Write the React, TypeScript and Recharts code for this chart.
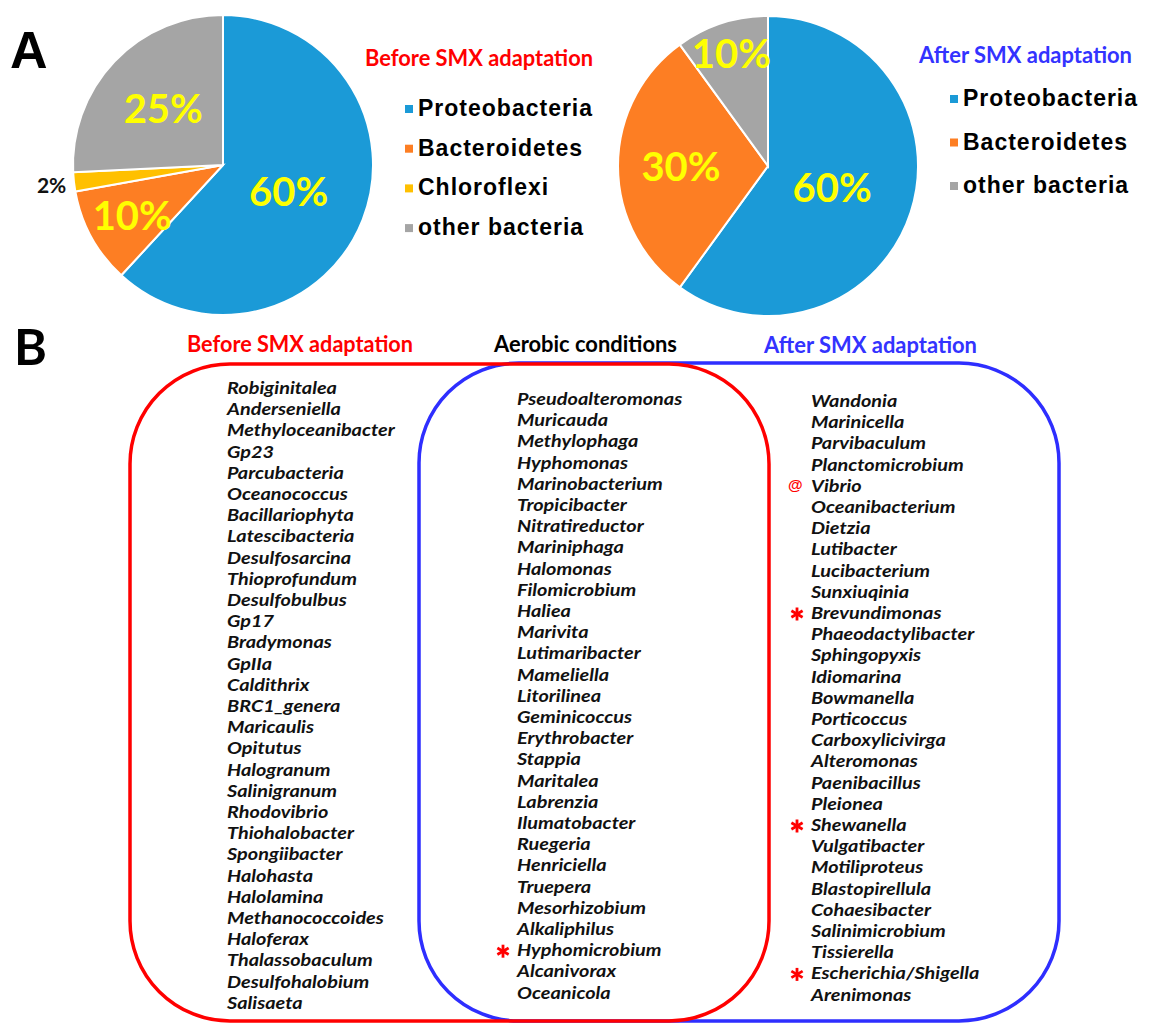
import React from 'react';
import { PieChart, Pie, Cell } from 'recharts';

// phylum composition of the community, percent of reads
const beforePhyla = ['Proteobacteria', 'Bacteroidetes', 'Chloroflexi', 'other bacteria'];
const beforeShares = [60, 10, 2, 25];
const afterPhyla = ['Proteobacteria', 'Bacteroidetes', 'other bacteria'];
const afterShares = [60, 30, 10];

// genera found only before, in both, and only after adaptation
const beforeGenera = [
  'Robiginitalea', 'Anderseniella', 'Methyloceanibacter', 'Gp23', 'Parcubacteria', 'Oceanococcus',
  'Bacillariophyta', 'Latescibacteria', 'Desulfosarcina', 'Thioprofundum', 'Desulfobulbus', 'Gp17',
  'Bradymonas', 'GpIIa', 'Caldithrix', 'BRC1_genera', 'Maricaulis', 'Opitutus', 'Halogranum',
  'Salinigranum', 'Rhodovibrio', 'Thiohalobacter', 'Spongiibacter', 'Halohasta', 'Halolamina',
  'Methanococcoides', 'Haloferax', 'Thalassobaculum', 'Desulfohalobium', 'Salisaeta',
];
const sharedGenera = [
  'Pseudoalteromonas', 'Muricauda', 'Methylophaga', 'Hyphomonas', 'Marinobacterium', 'Tropicibacter',
  'Nitratireductor', 'Mariniphaga', 'Halomonas', 'Filomicrobium', 'Haliea', 'Marivita',
  'Lutimaribacter', 'Mameliella', 'Litorilinea', 'Geminicoccus', 'Erythrobacter', 'Stappia',
  'Maritalea', 'Labrenzia', 'Ilumatobacter', 'Ruegeria', 'Henriciella', 'Truepera', 'Mesorhizobium',
  'Alkaliphilus', 'Hyphomicrobium', 'Alcanivorax', 'Oceanicola',
];
const afterGenera = [
  'Wandonia', 'Marinicella', 'Parvibaculum', 'Planctomicrobium', 'Vibrio', 'Oceanibacterium',
  'Dietzia', 'Lutibacter', 'Lucibacterium', 'Sunxiuqinia', 'Brevundimonas', 'Phaeodactylibacter',
  'Sphingopyxis', 'Idiomarina', 'Bowmanella', 'Porticoccus', 'Carboxylicivirga', 'Alteromonas',
  'Paenibacillus', 'Pleionea', 'Shewanella', 'Vulgatibacter', 'Motiliproteus', 'Blastopirellula',
  'Cohaesibacter', 'Salinimicrobium', 'Tissierella', 'Escherichia/Shigella', 'Arenimonas',
];
const starredGenera = ['Hyphomicrobium', 'Brevundimonas', 'Shewanella', 'Escherichia/Shigella'];
const atGenera = ['Vibrio'];

const phylumColors: Record<string, string> = {
  Proteobacteria: '#1b9ad7',
  Bacteroidetes: '#fd7e23',
  Chloroflexi: '#ffc000',
  'other bacteria': '#a5a5a5',
};

// how far out each percentage sits, as a fraction of the radius
const beforeLabelRadius = [0.47, 0.69, 1.15, 0.55];
const afterLabelRadius = [0.45, 0.58, 0.79];

const RAD = Math.PI / 180;
const RED = '#ff0000';
const BLUE = '#3333ff';
const LINE_GAP = 21.2;

const makeLabel = (radii: number[]) => (props: any) => {
  const { cx, cy, midAngle, outerRadius, index, value } = props;
  const k = radii[index];
  const r = outerRadius * k;
  const x = cx + r * Math.cos(-midAngle * RAD);
  const y = cy + r * Math.sin(-midAngle * RAD);
  const outside = k > 1;
  return (
    <text
      x={x}
      y={y}
      textAnchor="middle"
      dominantBaseline="central"
      fill={outside ? '#111' : '#ffff00'}
      fontFamily="Lato"
      fontWeight={700}
      fontSize={outside ? 21 : 40}
    >
      {value}%
    </text>
  );
};

function PhylumPie({ names, shares, radii, left, cx, cy }: {
  names: string[];
  shares: number[];
  radii: number[];
  left: number;
  cx: number;
  cy: number;
}) {
  const data = names.map((name, i) => ({ name, value: shares[i] }));
  return (
    <div style={{ position: 'absolute', left, top: 0 }}>
      <PieChart width={380} height={330} margin={{ top: 0, right: 0, bottom: 0, left: 0 }}>
        <Pie
          data={data}
          dataKey="value"
          cx={cx}
          cy={cy}
          outerRadius={150}
          startAngle={90}
          endAngle={-270}
          stroke="#fff"
          strokeWidth={2}
          label={makeLabel(radii)}
          labelLine={false}
          isAnimationActive={false}
        >
          {data.map((d) => (
            <Cell key={d.name} fill={phylumColors[d.name]} />
          ))}
        </Pie>
      </PieChart>
    </div>
  );
}

function PieKey({ title, color, names, x, titleX, titleY, titleWidth, top, gap }: {
  title: string;
  color: string;
  names: string[];
  x: number;
  titleX: number;
  titleY: number;
  titleWidth: number;
  top: number;
  gap: number;
}) {
  return (
    <g>
      <text x={titleX} y={titleY} fill={color} fontFamily="Lato" fontWeight={700} fontSize={22}
        textLength={titleWidth} lengthAdjust="spacingAndGlyphs">
        {title}
      </text>
      {names.map((name, i) => {
        const base = top + i * gap;
        return (
          <g key={name}>
            <rect x={x} y={base - 11} width={8} height={8} fill={phylumColors[name]} />
            <text x={x + 13} y={base} fill="#000" fontFamily="Liberation Sans" fontWeight={700}
              fontSize={23} letterSpacing={1}>
              {name}
            </text>
          </g>
        );
      })}
    </g>
  );
}

// six-spoked red asterisk centred on (x, y)
function Star({ x, y }: { x: number; y: number }) {
  const r = 6.5;
  const spokes = [90, 30, -30];
  return (
    <g stroke={RED} strokeWidth={2.8} strokeLinecap="butt">
      {spokes.map((a) => {
        const dx = r * Math.cos(a * RAD);
        const dy = r * Math.sin(a * RAD);
        return <line key={a} x1={x - dx} y1={y - dy} x2={x + dx} y2={y + dy} />;
      })}
    </g>
  );
}

function GenusList({ names, x, top }: { names: string[]; x: number; top: number }) {
  return (
    <g>
      {names.map((name, i) => {
        const y = top + i * LINE_GAP;
        return (
          <g key={name}>
            {starredGenera.includes(name) && <Star x={x - 14} y={y - 5} />}
            {atGenera.includes(name) && (
              <text x={x - 23} y={y - 2} fill={RED} fontFamily="Liberation Sans" fontWeight={700} fontSize={15}>
                @
              </text>
            )}
            <text
              transform={`translate(${x},${y}) scale(1.13,1)`}
              fill="#111"
              fontFamily="Lato"
              fontStyle="italic"
              fontWeight={700}
              fontSize={17.6}
            >
              {name}
            </text>
          </g>
        );
      })}
    </g>
  );
}

export default function App() {
  return (
    <div style={{ position: 'absolute', left: 0, top: 0, width: 1151, height: 1023, background: '#fff', overflow: 'hidden' }}>
      <PhylumPie names={beforePhyla} shares={beforeShares} radii={beforeLabelRadius} left={0} cx={223} cy={165} />
      <PhylumPie names={afterPhyla} shares={afterShares} radii={afterLabelRadius} left={600} cx={168} cy={166} />

      <svg width={1151} height={1023} style={{ position: 'absolute', left: 0, top: 0, pointerEvents: 'none' }}>
        <text x={10} y={68} fontFamily="Liberation Sans" fontWeight={700} fontSize={52} fill="#000">A</text>

        <PieKey title="Before SMX adaptation" color={RED} names={beforePhyla} x={405} titleX={365} titleY={66}
          titleWidth={228} top={116} gap={39.7} />
        <PieKey title="After SMX adaptation" color={BLUE} names={afterPhyla} x={950} titleX={919} titleY={63}
          titleWidth={213} top={106} gap={43.5} />

        <text x={14} y={365} fontFamily="Lato" fontWeight={700} fontSize={50} fill="#000">B</text>
        <text x={187} y={352} fill={RED} fontFamily="Lato" fontWeight={700} fontSize={22}
          textLength={226} lengthAdjust="spacingAndGlyphs">Before SMX adaptation</text>
        <text x={494} y={352} fill="#000" fontFamily="Lato" fontWeight={700} fontSize={22}
          textLength={183} lengthAdjust="spacingAndGlyphs">Aerobic conditions</text>
        <text x={764} y={353} fill={BLUE} fontFamily="Lato" fontWeight={700} fontSize={22}
          textLength={213} lengthAdjust="spacingAndGlyphs">After SMX adaptation</text>

        <rect x={419} y={363} width={640} height={658} rx={100} ry={100} fill="none" stroke="#2e2eff" strokeWidth={3.5} />
        <rect x={130} y={364} width={639} height={657} rx={100} ry={100} fill="none" stroke={RED} strokeWidth={3.5} />

        <GenusList names={beforeGenera} x={227} top={394} />
        <GenusList names={sharedGenera} x={517} top={405} />
        <GenusList names={afterGenera} x={811} top={407} />
      </svg>
    </div>
  );
}
